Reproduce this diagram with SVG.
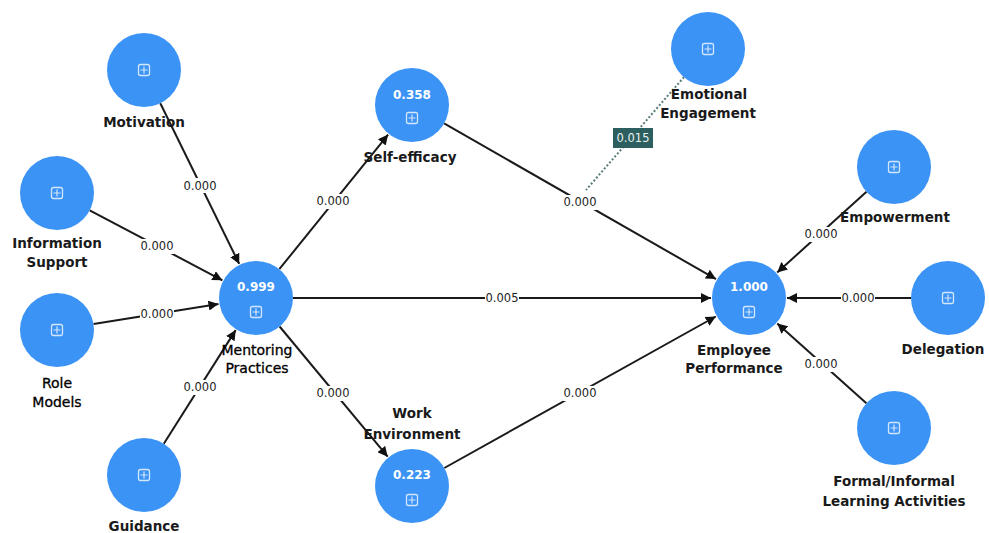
<svg xmlns="http://www.w3.org/2000/svg" width="989" height="533" viewBox="0 0 989 533">
<defs>
<marker id="arr" viewBox="0 0 10 10" refX="10" refY="5" markerWidth="10" markerHeight="10" markerUnits="userSpaceOnUse" orient="auto">
<path d="M0,0 L10,5 L0,10 z" fill="#111"/>
</marker>
<g id="icon">
<rect x="-5.5" y="-5.5" width="11" height="11" rx="2" fill="none" stroke="#d4e6fc" stroke-width="1.3"/>
<path d="M0,-3.5 V3.5 M-3.5,0 H3.5" stroke="#d4e6fc" stroke-width="1.2"/>
</g>
</defs>
<style>
.node{fill:#3b93f5}
.lbl{font-family:"DejaVu Sans",Verdana,sans-serif;font-size:13.5px;font-weight:bold;fill:#1a1a1a;text-anchor:middle}
.lbl.reg{font-weight:normal;font-size:14px;fill:#000;stroke:#000;stroke-width:0.3}
.val{font-family:"DejaVu Sans",Verdana,sans-serif;font-size:12px;font-weight:bold;fill:#ffffff;text-anchor:middle}
.edge{stroke:#1a1a1a;stroke-width:2;fill:none;marker-end:url(#arr)}
.elbl{font-family:"DejaVu Sans",Verdana,sans-serif;font-size:11.5px;fill:#222;text-anchor:middle}
.bg{fill:#ffffff}
</style>
<rect width="989" height="533" fill="#ffffff"/>
<g id="connectors">
<line class="edge" x1="160.3" y1="103.2" x2="239.2" y2="263.9"/>
<line class="edge" x1="89.7" y1="210.3" x2="222.4" y2="280.3"/>
<line class="edge" x1="93.5" y1="324.1" x2="218.5" y2="304.0"/>
<line class="edge" x1="163.8" y1="443.7" x2="235.7" y2="330.1"/>
<line class="edge" x1="279.3" y1="269.2" x2="388.1" y2="134.6"/>
<line class="edge" x1="279.6" y1="326.5" x2="387.7" y2="456.7"/>
<line class="edge" x1="293" y1="298" x2="711" y2="298"/>
<line class="edge" x1="444.1" y1="123.4" x2="716.0" y2="279.1"/>
<line class="edge" x1="444.3" y1="468.0" x2="715.8" y2="316.5"/>
<line class="edge" x1="866.5" y1="191.8" x2="777.2" y2="272.5"/>
<line class="edge" x1="911" y1="298" x2="787" y2="298"/>
<line class="edge" x1="866.4" y1="403.3" x2="777.3" y2="323.4"/>
<line x1="684" y1="77" x2="586" y2="190" stroke="#5a7a7a" stroke-width="2" stroke-dasharray="2,2"/>
<rect class="bg" x="183" y="178" width="34" height="15"/>
<text class="elbl" x="200" y="189.5">0.000</text>
<rect class="bg" x="140" y="239" width="34" height="15"/>
<text class="elbl" x="157" y="250">0.000</text>
<rect class="bg" x="140" y="307" width="34" height="15"/>
<text class="elbl" x="157" y="318">0.000</text>
<rect class="bg" x="183" y="380" width="34" height="15"/>
<text class="elbl" x="200" y="391">0.000</text>
<rect class="bg" x="316" y="194" width="34" height="15"/>
<text class="elbl" x="333" y="205">0.000</text>
<rect class="bg" x="316" y="386" width="34" height="15"/>
<text class="elbl" x="333" y="397">0.000</text>
<rect class="bg" x="485" y="291" width="34" height="15"/>
<text class="elbl" x="502" y="302">0.005</text>
<rect class="bg" x="563" y="195" width="34" height="15"/>
<text class="elbl" x="580" y="206">0.000</text>
<rect class="bg" x="563" y="386" width="34" height="15"/>
<text class="elbl" x="580" y="397">0.000</text>
<rect class="bg" x="804" y="227" width="34" height="15"/>
<text class="elbl" x="821" y="238">0.000</text>
<rect class="bg" x="841" y="291" width="34" height="15"/>
<text class="elbl" x="858" y="302">0.000</text>
<rect class="bg" x="804" y="357" width="34" height="15"/>
<text class="elbl" x="821" y="368">0.000</text>
<rect x="613" y="128" width="40" height="20" fill="#2e5f60"/>
<text x="633" y="142" font-family="DejaVu Sans, Verdana, sans-serif" font-size="11.5" fill="#e8f2f2" text-anchor="middle">0.015</text>
</g>
<g id="motivation">
<circle class="node" cx="144" cy="70" r="37"/>
<use href="#icon" x="144" y="70"/>
<text class="lbl" x="144" y="127">Motivation</text>
</g>
<g id="information-support">
<circle class="node" cx="57" cy="193" r="37"/>
<use href="#icon" x="57" y="193"/>
<text class="lbl" x="57" y="248">Information</text>
<text class="lbl" x="57" y="267">Support</text>
</g>
<g id="role-models">
<circle class="node" cx="57" cy="330" r="37"/>
<use href="#icon" x="57" y="330"/>
<text class="lbl reg" x="57" y="388">Role</text>
<text class="lbl reg" x="57" y="407">Models</text>
</g>
<g id="guidance">
<circle class="node" cx="144" cy="475" r="37"/>
<use href="#icon" x="144" y="475"/>
<text class="lbl" x="144" y="531">Guidance</text>
</g>
<g id="mentoring-practices">
<circle class="node" cx="256" cy="298" r="37"/>
<text class="val" x="256" y="291">0.999</text>
<use href="#icon" x="256" y="312"/>
<text class="lbl reg" x="257" y="355">Mentoring</text>
<text class="lbl reg" x="257" y="373">Practices</text>
</g>
<g id="self-efficacy">
<circle class="node" cx="412" cy="105" r="37"/>
<text class="val" x="412" y="99">0.358</text>
<use href="#icon" x="412" y="118"/>
<text class="lbl" x="410" y="162">Self-efficacy</text>
</g>
<g id="work-environment">
<circle class="node" cx="412" cy="486" r="37"/>
<text class="val" x="412" y="479">0.223</text>
<use href="#icon" x="412" y="500"/>
<text class="lbl" x="412" y="418">Work</text>
<text class="lbl" x="412" y="439">Environment</text>
</g>
<g id="emotional-engagement">
<circle class="node" cx="708" cy="49" r="37"/>
<use href="#icon" x="708" y="49"/>
<text class="lbl" x="709" y="99">Emotional</text>
<text class="lbl" x="708" y="118">Engagement</text>
</g>
<g id="empowerment">
<circle class="node" cx="894" cy="167" r="37"/>
<use href="#icon" x="894" y="167"/>
<text class="lbl" x="895" y="222">Empowerment</text>
</g>
<g id="employee-performance">
<circle class="node" cx="749" cy="298" r="37"/>
<text class="val" x="749" y="291">1.000</text>
<use href="#icon" x="749" y="312"/>
<text class="lbl" x="734" y="355">Employee</text>
<text class="lbl" x="734" y="373">Performance</text>
</g>
<g id="delegation">
<circle class="node" cx="948" cy="298" r="37"/>
<use href="#icon" x="948" y="298"/>
<text class="lbl" x="943" y="354">Delegation</text>
</g>
<g id="formal-informal">
<circle class="node" cx="894" cy="428" r="37"/>
<use href="#icon" x="894" y="428"/>
<text class="lbl" x="894" y="486">Formal/Informal</text>
<text class="lbl" x="894" y="506">Learning Activities</text>
</g>
</svg>
